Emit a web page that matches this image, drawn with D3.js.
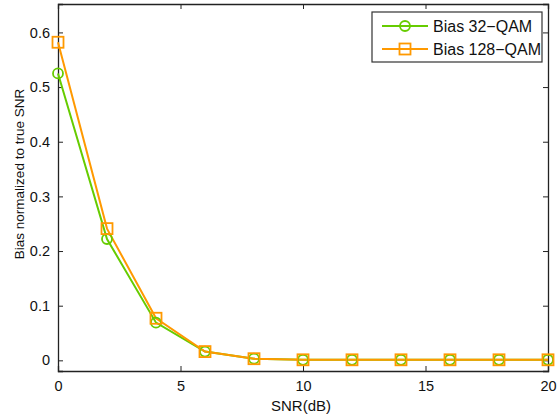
<!DOCTYPE html>
<html>
<head>
<meta charset="utf-8">
<script src="https://cdn.jsdelivr.net/npm/d3@7"></script>
<style>
  body { margin: 0; background: #fff; }
  text { font-family: "Liberation Sans", Arial, sans-serif; fill: #111; }
</style>
</head>
<body>
<svg id="chart"></svg>
<script>
// SNR values (dB) and bias per modulation
const snr = [0, 2, 4, 6, 8, 10, 12, 14, 16, 18, 20];
const bias32 = [0.525, 0.222, 0.069, 0.016, 0.003, 0.001, 0.001, 0.001, 0.001, 0.001, 0.001];
const bias128 = [0.582, 0.241, 0.077, 0.016, 0.003, 0.001, 0.001, 0.001, 0.001, 0.001, 0.001];
const xTicks = [0, 5, 10, 15, 20];
const yTicks = [0, 0.1, 0.2, 0.3, 0.4, 0.5, 0.6];
const seriesNames = ["Bias 32\u2212QAM", "Bias 128\u2212QAM"];

const width = 558, height = 418;
const margin = {top: 4, right: 10, bottom: 47, left: 58};

const svg = d3.select("#chart")
  .attr("width", width)
  .attr("height", height);

const x = d3.scaleLinear()
  .domain([0, 20])
  .range([margin.left, width - margin.right]);

const y = d3.scaleLinear()
  .domain([-0.0195, 0.652])
  .range([height - margin.bottom, margin.top]);

const color = d3.scaleOrdinal()
  .domain(seriesNames)
  .range(["#66cc00", "#ff9900"]);

// axes with inward ticks (matlab style)
const xAxis = svg.append("g")
  .attr("transform", `translate(0,${height - margin.bottom})`)
  .call(d3.axisBottom(x).tickValues(xTicks).tickSize(-5).tickPadding(10).tickFormat(d3.format("d")));
const xTop = svg.append("g")
  .attr("transform", `translate(0,${margin.top})`)
  .call(d3.axisTop(x).tickValues(xTicks).tickSize(-5).tickFormat(""));
const yAxis = svg.append("g")
  .attr("transform", `translate(${margin.left},0)`)
  .call(d3.axisLeft(y).tickValues(yTicks).tickSize(-5).tickPadding(8).tickFormat(d => d === 0 ? "0" : d3.format(".1f")(d)));
const yRight = svg.append("g")
  .attr("transform", `translate(${width - margin.right},0)`)
  .call(d3.axisRight(y).tickValues(yTicks).tickSize(-5).tickFormat(""));

[xAxis, xTop, yAxis, yRight].forEach(g => {
  g.select(".domain").attr("stroke", "#222").attr("stroke-width", 1.3);
  g.selectAll(".tick line").attr("stroke", "#222");
  g.selectAll(".tick text").attr("font-size", 14.5).attr("fill", "#111")
    .attr("font-family", "Liberation Sans, Arial, sans-serif");
});

// axis labels
svg.append("text")
  .attr("x", 301)
  .attr("y", 411)
  .attr("text-anchor", "middle")
  .attr("font-size", 15)
  .text("SNR(dB)");

svg.append("text")
  .attr("transform", "translate(24,174) rotate(-90)")
  .attr("text-anchor", "middle")
  .attr("font-size", 13.5)
  .text("Bias normalized to true SNR");

const line = d3.line()
  .x((d, i) => x(snr[i]))
  .y(d => y(d));

const series = [bias32, bias128];

series.forEach((vals, k) => {
  svg.append("path")
    .datum(vals)
    .attr("fill", "none")
    .attr("stroke", color(seriesNames[k]))
    .attr("stroke-width", 2)
    .attr("d", line);
});

// markers
svg.selectAll("circle.m32")
  .data(bias32)
  .enter()
  .append("circle")
  .attr("class", "m32")
  .attr("cx", (d, i) => x(snr[i]))
  .attr("cy", d => y(d))
  .attr("r", 5)
  .attr("fill", "none")
  .attr("stroke", color(seriesNames[0]))
  .attr("stroke-width", 1.8);

svg.selectAll("rect.m128")
  .data(bias128)
  .enter()
  .append("rect")
  .attr("class", "m128")
  .attr("x", (d, i) => x(snr[i]) - 5.5)
  .attr("y", d => y(d) - 5.5)
  .attr("width", 11)
  .attr("height", 11)
  .attr("fill", "none")
  .attr("stroke", color(seriesNames[1]))
  .attr("stroke-width", 1.8);

// legend
const legend = svg.append("g").attr("transform", "translate(372,12)");
legend.append("rect")
  .attr("width", 170).attr("height", 50)
  .attr("fill", "#fff").attr("stroke", "#333").attr("stroke-width", 1.2);

seriesNames.forEach((name, i) => {
  const cy = 14 + i * 23;
  legend.append("line")
    .attr("x1", 10).attr("x2", 56).attr("y1", cy).attr("y2", cy)
    .attr("stroke", color(name)).attr("stroke-width", 2);
  if (i === 0) {
    legend.append("circle").attr("cx", 33).attr("cy", cy).attr("r", 5)
      .attr("fill", "none").attr("stroke", color(name)).attr("stroke-width", 1.8);
  } else {
    legend.append("rect").attr("x", 27.5).attr("y", cy - 5.5).attr("width", 11).attr("height", 11)
      .attr("fill", "none").attr("stroke", color(name)).attr("stroke-width", 1.8);
  }
  legend.append("text")
    .attr("x", 61).attr("y", cy + 5.5)
    .attr("font-size", 16)
    .text(name);
});
</script>
</body>
</html>
